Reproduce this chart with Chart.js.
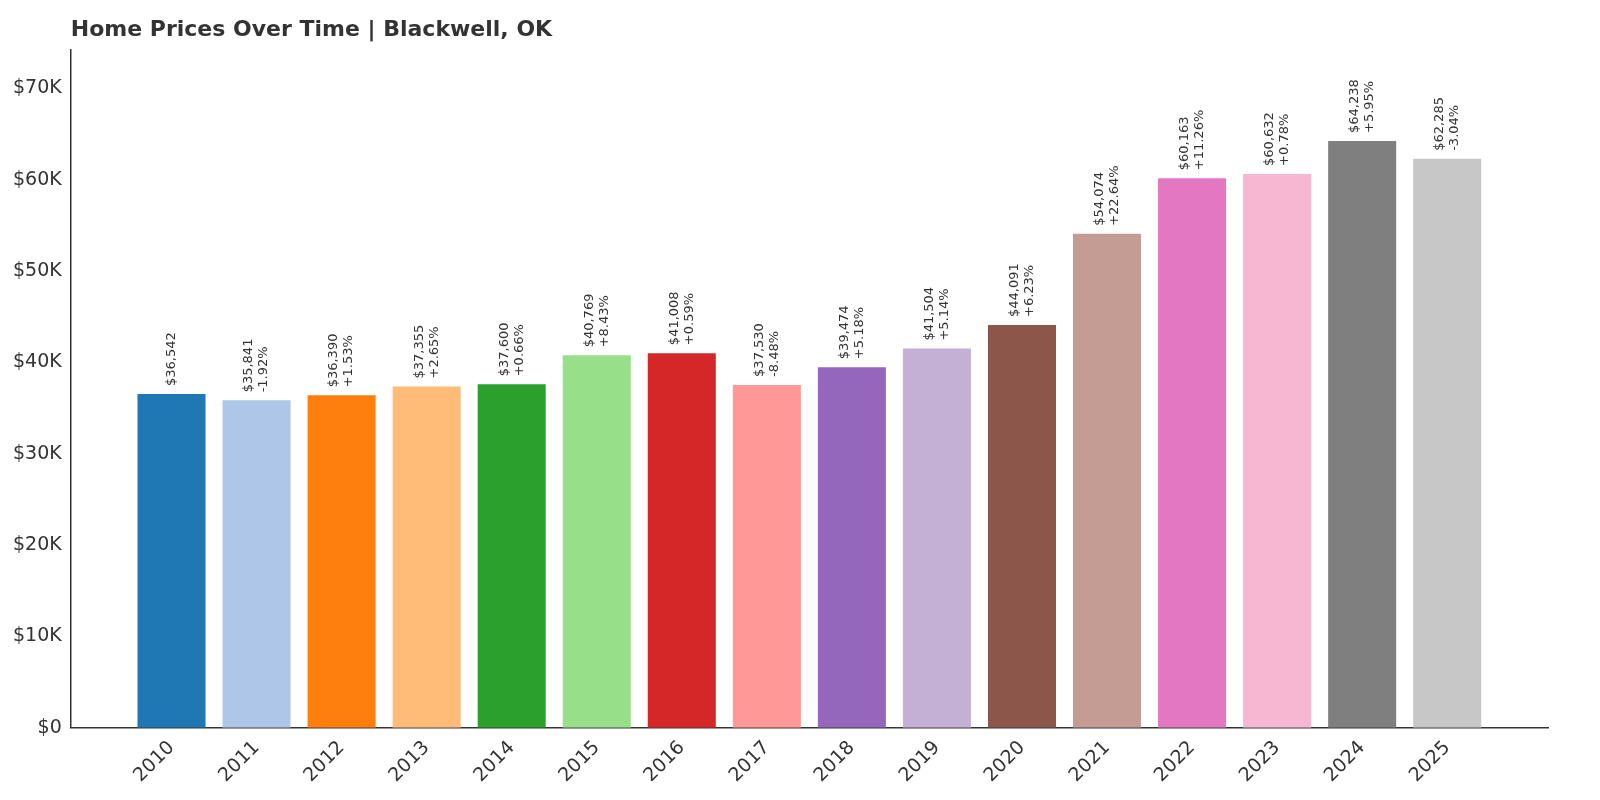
<!DOCTYPE html>
<html><head><meta charset="utf-8">
<script src="https://cdn.jsdelivr.net/npm/chart.js@4"></script>
<style>
  html, body { margin: 0; background: #fff; overflow: hidden; }
  #wrap { width: 1600px; height: 800px; position: relative; }
</style>
</head><body>
<div id="wrap"><canvas id="c"></canvas></div>
<script>
// Data
const years = [2010, 2011, 2012, 2013, 2014, 2015, 2016, 2017, 2018, 2019, 2020, 2021, 2022, 2023, 2024, 2025];
const prices = [36542, 35841, 36390, 37355, 37600, 40769, 41008, 37530, 39474, 41504, 44091, 54074, 60163, 60632, 64238, 62285];
const changes = ['', '-1.92%', '+1.53%', '+2.65%', '+0.66%', '+8.43%', '+0.59%', '-8.48%', '+5.18%', '+5.14%', '+6.23%', '+22.64%', '+11.26%', '+0.78%', '+5.95%', '-3.04%'];
const colors = ['#1f77b4', '#aec7e8', '#ff7f0e', '#ffbb78', '#2ca02c', '#98df8a', '#d62728', '#ff9896',
                '#9467bd', '#c5b0d5', '#8c564b', '#c49c94', '#e377c2', '#f7b6d2', '#7f7f7f', '#c7c7c7'];
const yTicks = [0, 10000, 20000, 30000, 40000, 50000, 60000, 70000];
const TITLE = 'Home Prices Over Time | Blackwell, OK';

const FONT = 'DejaVu Sans';

// title aligned with the plot's left edge
const titlePlugin = {
    id: 'titlePlugin',
    afterDraw(chart) {
        const ctx = chart.ctx;
        ctx.save();
        ctx.fillStyle = '#333';
        ctx.font = `bold 22px "${FONT}"`;
        ctx.textBaseline = 'middle';
        ctx.fillText(TITLE, chart.chartArea.left, 30);
        ctx.restore();
    }
};

// labels above bars, rotated
const barLabels = {
    id: 'barLabels',
    afterDatasetsDraw(chart) {
        const ctx = chart.ctx;
        const meta = chart.getDatasetMeta(0);
        ctx.save();
        ctx.fillStyle = '#333';
        ctx.font = `13px "${FONT}"`;
        meta.data.forEach((bar, i) => {
            const lines = ['$' + prices[i].toLocaleString('en-US')];
            if (changes[i]) lines.push(changes[i]);
            ctx.save();
            ctx.translate(bar.x, bar.y - 8);
            ctx.rotate(-Math.PI / 2);
            ctx.textAlign = 'left';
            ctx.textBaseline = 'middle';
            const lh = 15;
            const off = -(lines.length - 1) * lh / 2;
            lines.forEach((t, k) => ctx.fillText(t, 0, off + k * lh));
            ctx.restore();
        });
        ctx.restore();
    }
};

new Chart(document.getElementById('c'), {
    type: 'bar',
    data: {
        datasets: [{
            data: years.map((y, i) => ({ x: y, y: prices[i] })),
            backgroundColor: colors,
            barPercentage: 0.8,
            categoryPercentage: 1.0
        }]
    },
    options: {
        responsive: true,
        maintainAspectRatio: false,
        animation: false,
        layout: { padding: { left: 10, right: 52, top: 50, bottom: 10 } },
        plugins: {
            legend: { display: false },
            tooltip: { enabled: false },
            title: { display: false }
        },
        scales: {
            x: {
                type: 'linear',
                offset: false,
                min: 2008.815,
                max: 2026.185,
                afterBuildTicks: s => { s.ticks = years.map(v => ({ value: v })); },
                grid: { display: false, drawTicks: true, tickLength: 6, tickColor: '#333' },
                border: { color: '#333', width: 1.5 },
                ticks: {
                    color: '#333', maxRotation: 45, minRotation: 45,
                    font: { family: FONT, size: 19 },
                    callback: v => String(v)
                }
            },
            y: {
                min: 0,
                max: 74200,
                afterBuildTicks: s => { s.ticks = yTicks.map(v => ({ value: v })); },
                grid: { display: false, drawTicks: true, tickLength: 6, tickColor: '#333' },
                border: { color: '#333', width: 1.5 },
                ticks: {
                    color: '#333',
                    font: { family: FONT, size: 19 },
                    callback: v => v === 0 ? '$0' : '$' + (v / 1000) + 'K'
                }
            }
        }
    },
    plugins: [barLabels, titlePlugin]
});
</script>
</body></html>
